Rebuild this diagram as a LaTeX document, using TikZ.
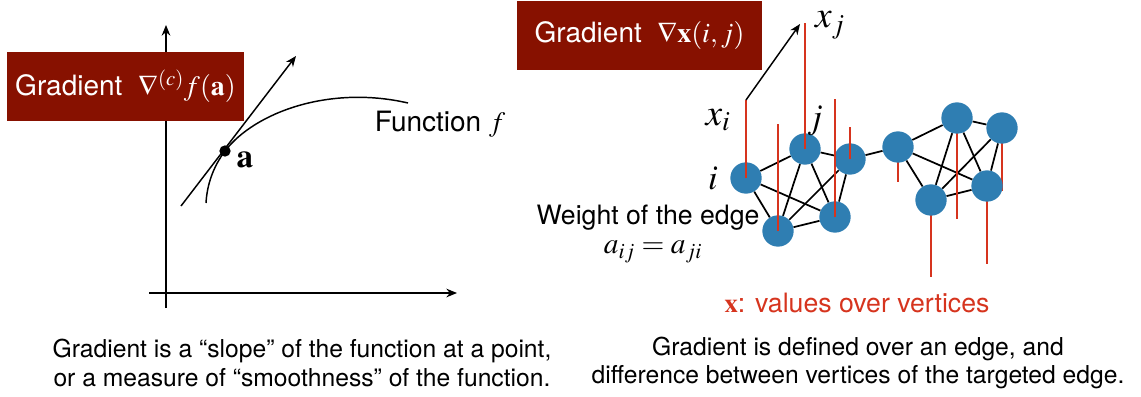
\documentclass[tikz,border=0pt]{standalone}
\usepackage{mathptmx}
\usepackage[no-math]{fontspec}
\setmainfont{TeX Gyre Heros}
\usepackage{tikz}
\usetikzlibrary{arrows.meta,positioning,backgrounds}
\definecolor{colBox}{RGB}{135,17,0}
\definecolor{colNode}{RGB}{47,126,178}
\definecolor{colVal}{RGB}{214,52,30}
\tikzset{
  gbox/.style   = {rectangle, fill=colBox, text=white, inner sep=0pt,
                   minimum height=51.75pt, font=\fontsize{21}{24}\selectfont},
  vtx/.style    = {circle, fill=colNode, inner sep=0pt, minimum size=23.5pt},
  link/.style   = {line width=1.3pt, draw=black},
  valbar/.style = {line width=1.6pt, draw=colVal},
  axisline/.style = {-{Stealth[length=8pt,width=6.5pt]}, line width=1.1pt},
  arr/.style    = {-{Stealth[length=8pt,width=6.5pt]}, line width=1.1pt},
  txt/.style    = {font=\fontsize{20}{24}\selectfont, inner sep=0pt},
  note/.style   = {font=\fontsize{18.5}{21.5}\selectfont, align=center, inner sep=0pt},
  mlab/.style   = {font=\fontsize{28}{28}\selectfont, inner sep=0pt},
}
\begin{document}
\begin{tikzpicture}[x=0.75pt, y=-0.75pt]
\useasboundingbox (0,0) rectangle (1141,396);

%% ── Left: function and its slope ──────────────────────────
\coordinate (yb) at (166,308);
\coordinate (yt) at (166,25);
\coordinate (xl) at (149,293);
\coordinate (xr) at (457,293);
\draw[axisline] (yb) -- (yt);
\draw[axisline] (xl) -- (xr);

\node[gbox, minimum width=177.75pt] (gradL) at (125.5,86.5)
  {Gradient\ \ $\nabla^{(c)}f(\mathbf{a})$};

\node[circle, fill=black, inner sep=0pt, minimum size=8.5pt] (pa) at (225,151) {};
\node[font=\fontsize{25}{25}\selectfont, inner sep=0pt] (la) at (245,160) {$\mathbf{a}$};

\coordinate (tanA) at (181,206);
\coordinate (tanB) at (296,56);
\draw[arr] (tanA) -- (tanB);
\draw[line width=1.1pt] (206,203) .. controls (207,185) and (213,167) .. (pa.center)
  .. controls (255,112) and (330,85) .. (408,103);

\node[txt, font=\fontsize{21}{24}\selectfont] (lfun) at (440,124) {Function $f$};

%% ── Right: graph with values over vertices ────────────────
\node[gbox, minimum width=183.75pt] (gradR) at (639.5,35.5)
  {Gradient\ \ $\nabla\mathbf{x}(i,j)$};

\node[vtx] (vi) at (746,178) {};
\node[vtx] (vj) at (805,149) {};
\node[vtx] (vk) at (850,159) {};
\node[vtx] (vl) at (835,217) {};
\node[vtx] (vm) at (778,231) {};
\node[vtx] (vb) at (898,147) {};
\node[vtx] (wa) at (957,118) {};
\node[vtx] (wb) at (1002,128) {};
\node[vtx] (wc) at (987,186) {};
\node[vtx] (wd) at (931,200) {};

%% bar ends
\coordinate (ti) at (746,100);
\coordinate (tj) at (805,23);
\coordinate (tk) at (850,127);
\coordinate (tl) at (835,99);
\coordinate (tm) at (778,124);
\coordinate (bb) at (898,182);
\coordinate (ba) at (957,219);
\coordinate (bwb) at (1002,191);
\coordinate (bc) at (987,264);
\coordinate (bd) at (931,277);
\coordinate (xjtip) at (800,24);

\begin{pgfonlayer}{background}
  % edges
  \draw[link] (vi) -- (vj);
  \draw[link] (vi) -- (vl);
  \draw[link] (vi) -- (vm);
  \draw[link] (vj) -- (vk);
  \draw[link] (vj) -- (vl);
  \draw[link] (vj) -- (vm);
  \draw[link] (vk) -- (vl);
  \draw[link] (vk) -- (vm);
  \draw[link] (vl) -- (vm);
  \draw[link] (vk) -- (vb);
  \draw[link] (vb) -- (wa);
  \draw[link] (vb) -- (wc);
  \draw[link] (vb) -- (wd);
  \draw[link] (wa) -- (wb);
  \draw[link] (wa) -- (wc);
  \draw[link] (wa) -- (wd);
  \draw[link] (wb) -- (wc);
  \draw[link] (wb) -- (wd);
  \draw[link] (wc) -- (wd);
  % negative values
  \draw[valbar] (vb.center) -- (bb);
  \draw[valbar] (wa.center) -- (ba);
  \draw[valbar] (wb.center) -- (bwb);
  \draw[valbar] (wc.center) -- (bc);
  \draw[valbar] (wd.center) -- (bd);
\end{pgfonlayer}

% positive values
\draw[valbar] (vi.center) -- (ti);
\draw[valbar] (vj.center) -- (tj);
\draw[valbar] (vk.center) -- (tk);
\draw[valbar] (vl.center) -- (tl);
\draw[valbar] (vm.center) -- (tm);

\draw[arr] (ti) -- (xjtip);

\node[mlab] (lxi) at (718,120) {$x_i$};
\node[mlab] (lxj) at (830,25) {$x_j$};
\node[mlab, font=\fontsize{26}{26}\selectfont] (li) at (713,178) {$i$};
\node[mlab, font=\fontsize{26}{26}\selectfont] (lj) at (815,121) {$j$};

\node[txt] (weight) at (648,218) {Weight of the edge};
\node[mlab, font=\fontsize{22}{22}\selectfont] (aij) at (653,252) {$a_{ij} = a_{ji}$};
\node[txt, text=colVal] (xval) at (857,303) {$\mathbf{x}$: values over vertices};

%% ── Captions ──────────────────────────────────────────────
\node[note] (capL) at (302,363)
  {Gradient is a “slope” of the function at a point,\\or a measure of “smoothness” of the function.};
\node[note] (capR) at (858,363)
  {Gradient is defined over an edge, and\\difference between vertices of the targeted edge.};

\end{tikzpicture}
\end{document}
